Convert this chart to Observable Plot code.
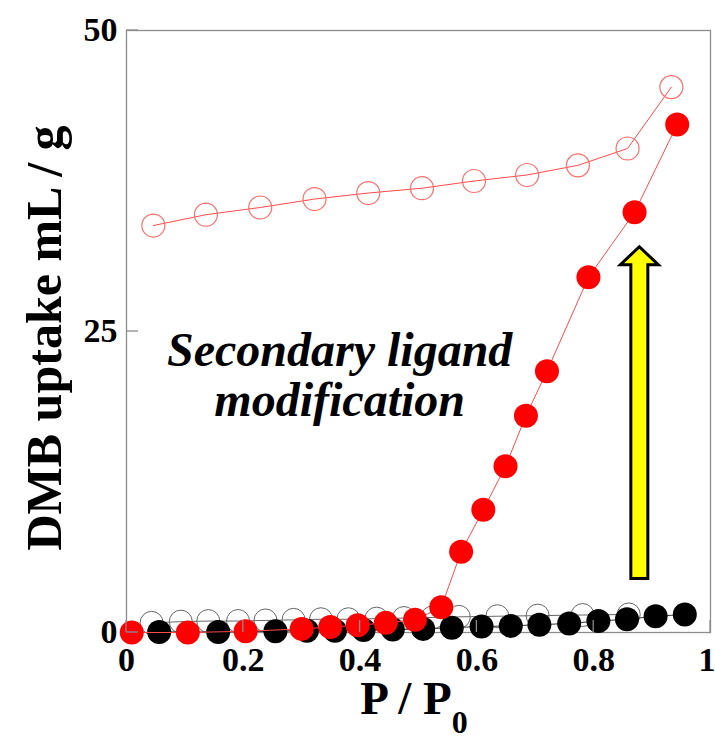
<!DOCTYPE html>
<html><head><meta charset="utf-8">
<script src="https://cdn.jsdelivr.net/npm/d3@7"></script>
<script src="https://cdn.jsdelivr.net/npm/@observablehq/plot@0.6"></script>
<style>body{margin:0;background:#fff}</style>
</head><body><div id="chart"></div>
<script>
// ---- data ----
const xRedAds = [0.009, 0.105, 0.204, 0.300, 0.349, 0.396, 0.444, 0.494, 0.539, 0.573, 0.611, 0.649, 0.684, 0.720, 0.791, 0.870, 0.943];
const yRedAds = [0, 0, 0.1, 0.3, 0.45, 0.6, 0.8, 1.05, 2.1, 6.7, 10.2, 13.8, 18.0, 21.7, 29.5, 34.9, 42.2];
const xRedDes = [0.046, 0.136, 0.229, 0.322, 0.414, 0.506, 0.595, 0.686, 0.773, 0.858, 0.933];
const yRedDes = [33.8, 34.7, 35.3, 36.0, 36.5, 36.9, 37.5, 38.0, 38.8, 40.2, 45.3];
const xBlackAds = [0.056, 0.157, 0.255, 0.309, 0.357, 0.406, 0.456, 0.508, 0.557, 0.608, 0.658, 0.707, 0.758, 0.808, 0.857, 0.906, 0.956];
const yBlackAds = [0.05, 0.05, 0.1, 0.15, 0.15, 0.2, 0.25, 0.3, 0.4, 0.5, 0.55, 0.65, 0.75, 0.95, 1.1, 1.35, 1.5];
const xBlackDes = [0.043, 0.093, 0.140, 0.191, 0.238, 0.286, 0.333, 0.380, 0.428, 0.475, 0.524, 0.569, 0.635, 0.704, 0.781, 0.860];
const yBlackDes = [0.8, 0.9, 0.95, 0.95, 1.0, 1.05, 1.1, 1.1, 1.15, 1.2, 1.25, 1.3, 1.35, 1.4, 1.45, 1.5];

const xTicks = [0, 0.2, 0.4, 0.6, 0.8, 1];
const xTickLabels = ["0", "0.2", "0.4", "0.6", "0.8", "1"];
const yTicks = [0, 25, 50];
const yTickLabels = ["0", "25", "50"];

const annoX = [0.365, 0.365];
const annoY = [23.4, 19.3];
const annoText = ["Secondary ligand", "modification"];
const arrowX = [0.879];
const arrowFrom = [4.45];
const arrowTo = [32.0];

const yTitle = "DMB uptake mL / g";
const xTitleMain = "P / P";
const xTitleSub = "0";

// ---- build ----
const serif = "'Liberation Serif','Times New Roman',serif";
const pts = (xs, ys) => xs.map((x, i) => ({x, y: ys[i]}));
const redAds = pts(xRedAds, yRedAds), redDes = pts(xRedDes, yRedDes);
const blackAds = pts(xBlackAds, yBlackAds), blackDes = pts(xBlackDes, yBlackDes);
const anno = annoText.map((t, i) => ({x: annoX[i], y: annoY[i], t}));
const arrows = arrowX.map((x, i) => ({x, y1: arrowFrom[i], y2: arrowTo[i]}));
const xFmt = d => xTickLabels[xTicks.indexOf(d)];

function inwardTicks(index, scales, values, dims) {
  const g = d3.create("svg:g").attr("stroke", "#8c8c8c").attr("stroke-width", 1.3);
  const yb = dims.height - dims.marginBottom, xl = dims.marginLeft;
  for (const t of xTicks) { const x = scales.x(t); g.append("line").attr("x1", x).attr("x2", x).attr("y1", yb).attr("y2", yb - 12); }
  for (const t of yTicks) { const y = scales.y(t); g.append("line").attr("x1", xl).attr("x2", xl + 12).attr("y1", y).attr("y2", y); }
  return g.node();
}
function blockArrow(index, scales) {
  const g = d3.create("svg:g");
  for (const a of arrows) {
    const cx = scales.x(a.x), yb = scales.y(a.y1), yt = scales.y(a.y2);
    const sw = 8.5, hw = 19, hl = 18;
    const p = [[cx - sw, yb], [cx - sw, yt + hl], [cx - hw, yt + hl], [cx, yt], [cx + hw, yt + hl], [cx + sw, yt + hl], [cx + sw, yb]];
    g.append("path").attr("d", "M" + p.join("L") + "Z").attr("fill", "#ffff00").attr("stroke", "#000").attr("stroke-width", 3).attr("stroke-linejoin", "miter");
  }
  return g.node();
}
function titles(index, scales, values, dims) {
  const g = d3.create("svg:g").attr("font-family", serif).attr("font-weight", "bold").attr("fill", "#000");
  const cx = (dims.marginLeft + dims.width - dims.marginRight) / 2 - 4;
  const t = g.append("text").attr("x", cx).attr("y", 714).attr("text-anchor", "middle").attr("font-size", 47);
  t.append("tspan").text(xTitleMain);
  t.append("tspan").attr("font-size", 32).attr("dy", 19).text(xTitleSub);
  const cy = 338;
  g.append("text").attr("transform", `translate(61,${cy}) rotate(-90)`).attr("text-anchor", "middle").attr("font-size", 50).text(yTitle);
  return g.node();
}

const axisText = {tickSize: 0, fontSize: 34, fontWeight: "bold", fill: "#000", label: null};

const plot = Plot.plot({
  width: 715, height: 742,
  marginLeft: 126, marginRight: 5, marginTop: 30, marginBottom: 110,
  x: {domain: [0, 1]},
  y: {domain: [0, 50]},
  style: {background: "white", fontFamily: serif, overflow: "visible"},
  marks: [
    Plot.frame({stroke: "#8c8c8c", strokeWidth: 1.3}),
    Plot.line(blackDes, {x: "x", y: "y", stroke: "#666", strokeWidth: 1}),
    Plot.dot(blackDes, {x: "x", y: "y", r: 11.5, stroke: "#666", strokeWidth: 1, fill: "none"}),
    Plot.line(blackAds, {x: "x", y: "y", stroke: "#333", strokeWidth: 1}),
    Plot.dot(blackAds, {x: "x", y: "y", r: 12, fill: "#000", stroke: "none"}),
    Plot.line(redDes, {x: "x", y: "y", stroke: "#ff4a4a", strokeWidth: 1}),
    Plot.dot(redDes, {x: "x", y: "y", r: 11.5, stroke: "#ff6e6e", strokeWidth: 1.2, fill: "none"}),
    Plot.line(redAds, {x: "x", y: "y", stroke: "#ff4a4a", strokeWidth: 1}),
    Plot.dot(redAds, {x: "x", y: "y", r: 12, fill: "#ff0000", stroke: "none"}),
    blockArrow,
    Plot.text(anno, {x: "x", y: "y", text: "t", fontSize: 48, fontWeight: "bold", fontStyle: "italic", fill: "#000", fontFamily: serif}),
    inwardTicks,
    Plot.axisX(xTicks.slice(0, -1), {...axisText, tickPadding: 14, tickFormat: xFmt}),
    Plot.axisX(xTicks.slice(-1), {...axisText, tickPadding: 14, tickFormat: xFmt, textAnchor: "end", dx: 5}),
    Plot.axisY(yTicks, {...axisText, tickPadding: 9, tickFormat: d => yTickLabels[yTicks.indexOf(d)]}),
    titles
  ]
});
document.getElementById("chart").appendChild(plot);
</script>
</body></html>
